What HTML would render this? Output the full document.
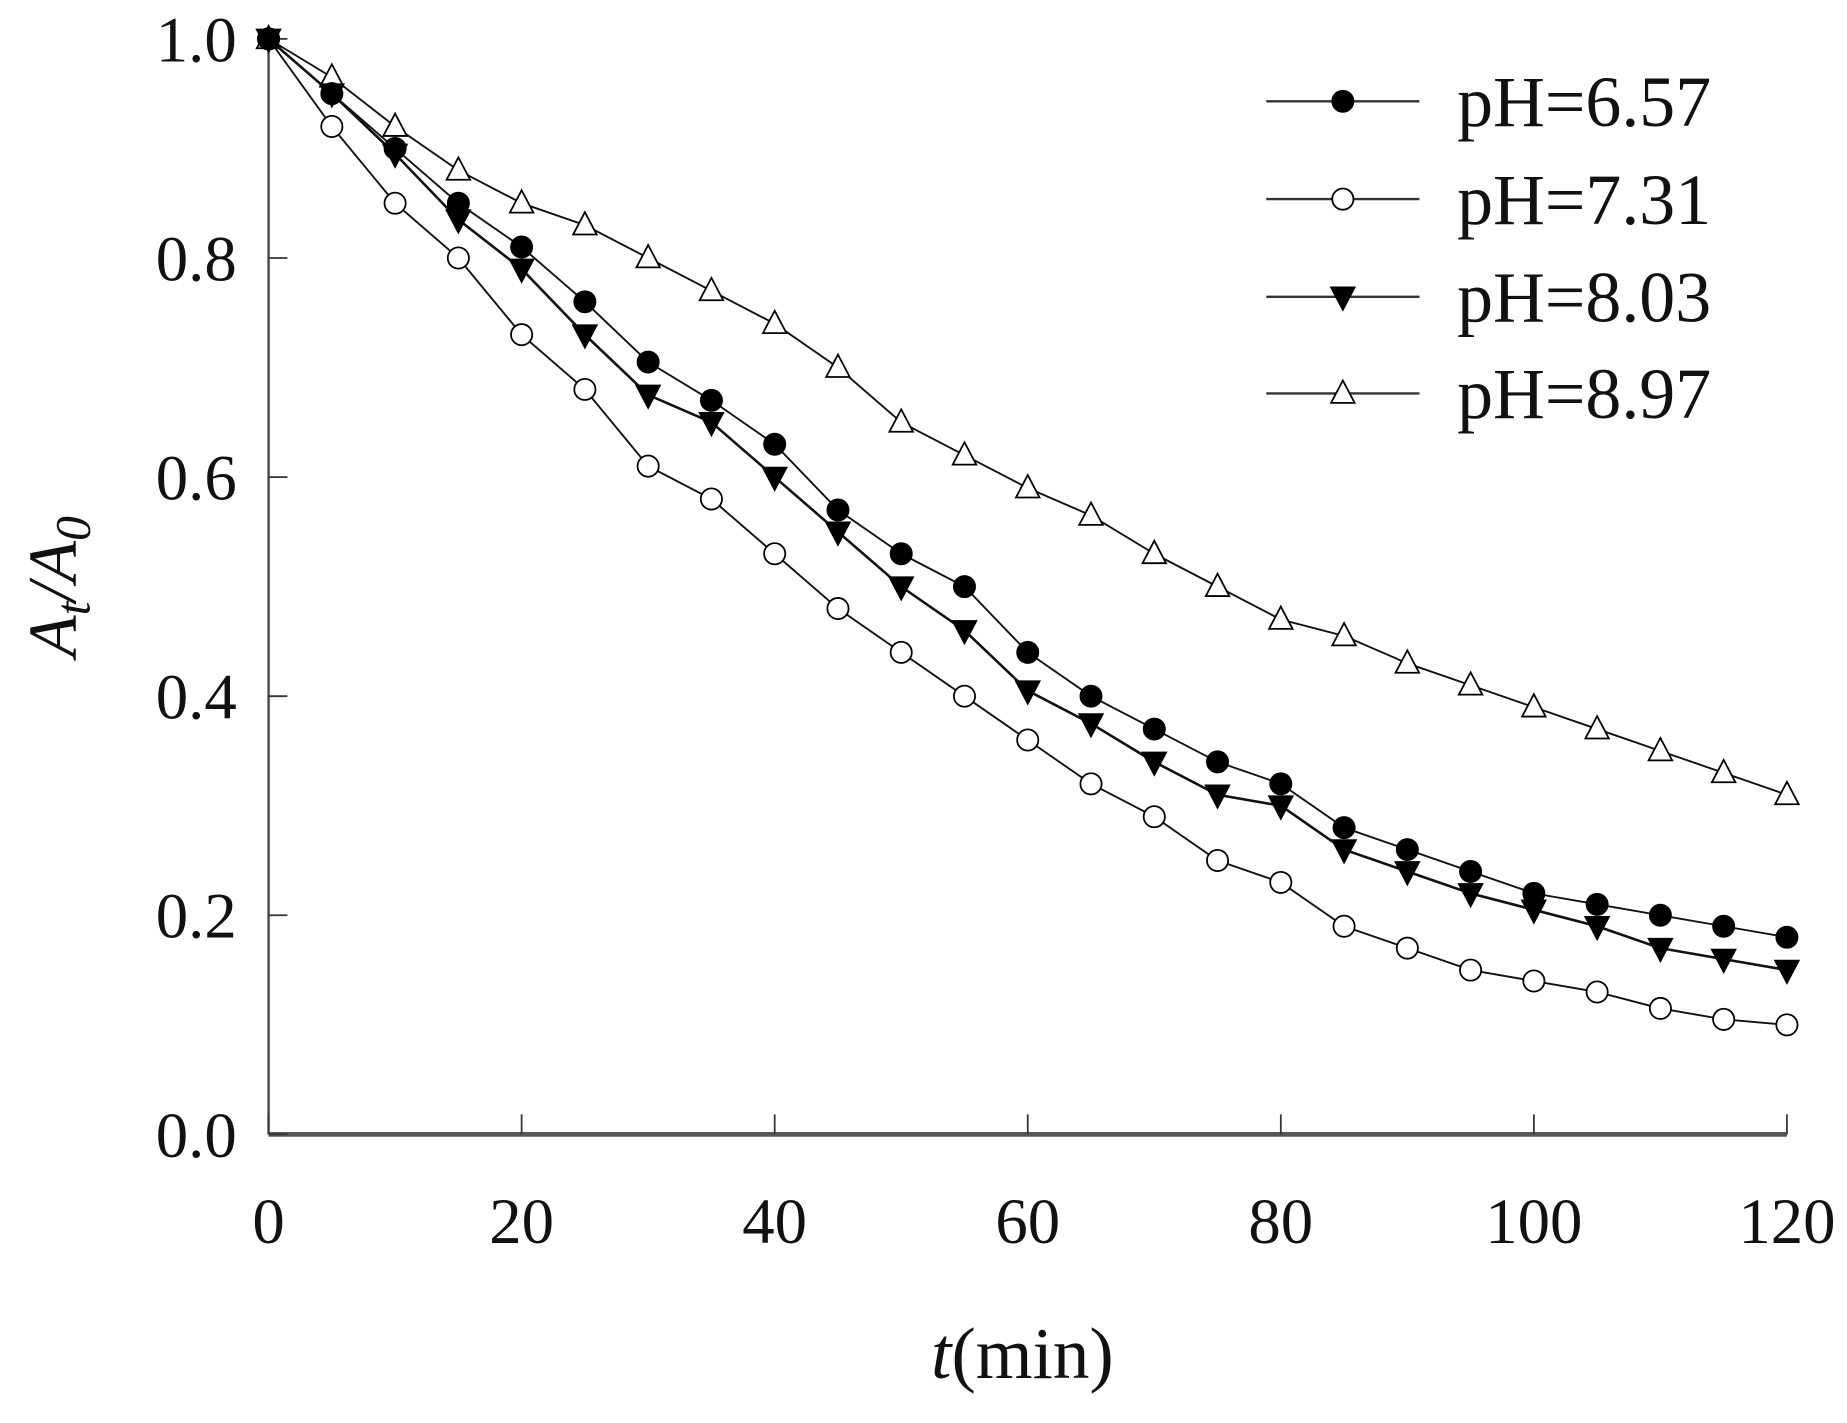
<!DOCTYPE html>
<html><head><meta charset="utf-8"><style>
html,body{margin:0;padding:0;background:#fff;}
svg{display:block;}
text{font-family:"Liberation Serif",serif;fill:#111;}
</style></head><body>
<svg id="chart" width="1847" height="1423" viewBox="0 0 1568 1208" preserveAspectRatio="none" xmlns="http://www.w3.org/2000/svg">
<g id="axes"></g>
<g id="series"></g>
<g id="legend"></g>
<text x="868" y="1170" font-size="62" text-anchor="middle"><tspan font-style="italic">t</tspan>(min)</text>
<text transform="translate(64,498) rotate(-90)" font-size="58" text-anchor="middle" font-style="italic">A<tspan font-size="42" dy="12">t</tspan><tspan dy="-12">/A</tspan><tspan font-size="42" dy="12">0</tspan></text>
</svg>
<script>
const times=[0,5,10,15,20,25,30,35,40,45,50,55,60,65,70,75,80,85,90,95,100,105,110,115,120];
const ph657=[1.0,0.95,0.90,0.85,0.81,0.76,0.705,0.67,0.63,0.57,0.53,0.50,0.44,0.40,0.37,0.34,0.32,0.28,0.26,0.24,0.22,0.21,0.20,0.19,0.18];
const ph731=[1.0,0.92,0.85,0.80,0.73,0.68,0.61,0.58,0.53,0.48,0.44,0.40,0.36,0.32,0.29,0.25,0.23,0.19,0.17,0.15,0.14,0.13,0.115,0.105,0.10];
const ph803=[1.0,0.95,0.895,0.835,0.79,0.73,0.675,0.65,0.60,0.55,0.50,0.46,0.405,0.375,0.34,0.31,0.30,0.26,0.24,0.22,0.205,0.19,0.17,0.16,0.15];
const ph897=[1.0,0.965,0.92,0.88,0.85,0.83,0.80,0.77,0.74,0.70,0.65,0.62,0.59,0.565,0.53,0.50,0.47,0.455,0.43,0.41,0.39,0.37,0.35,0.33,0.31];
const xTicks=[0,20,40,60,80,100,120];
const yTicks=[0,0.2,0.4,0.6,0.8,1.0];
const yTickLabels=["0.0","0.2","0.4","0.6","0.8","1.0"];
const seriesNames=["pH=6.57","pH=7.31","pH=8.03","pH=8.97"];

const NS="http://www.w3.org/2000/svg";
const X0=228,X1=1517,Y0=963,Y1=33;
const xs=v=>X0+(v-0)/(120-0)*(X1-X0);
const ys=v=>Y0-(v-0)/(1-0)*(Y0-Y1);
function mk(tag,attrs,parent){const e=document.createElementNS(NS,tag);for(const k in attrs)e.setAttribute(k,attrs[k]);parent.appendChild(e);return e;}
const axes=document.getElementById('axes');
let a=mk('line',{x1:X0,y1:Y1,x2:X0,y2:Y0,stroke:'#444','stroke-width':2},axes);


a=mk('line',{x1:X0,y1:Y0,x2:X1,y2:Y0,stroke:'#555','stroke-width':4},axes);


xTicks.forEach(v=>{
 const t=mk('line',{x1:xs(v),y1:Y0,x2:xs(v),y2:Y0-17,stroke:'#333','stroke-width':1.5},axes);
 
 
 const l=mk('text',{x:xs(v),y:Y0+92,'font-size':55,'text-anchor':'middle'},axes);
 l.textContent=v;
 
 
});
yTicks.forEach((v,i)=>{
 const t=mk('line',{x1:X0,y1:ys(v),x2:X0+16,y2:ys(v),stroke:'#333','stroke-width':1.5},axes);
 
 
 const l=mk('text',{x:201,y:ys(v)+19,'font-size':55,'text-anchor':'end'},axes);
 l.textContent=yTickLabels[i];
 
 
});
function marker(type,cx,cy,g){
 let m;
 if(type===0) m=mk('circle',{cx,cy,r:9,fill:'#000',stroke:'#000','stroke-width':1.5},g);
 else if(type===1) m=mk('circle',{cx,cy,r:9,fill:'#fff',stroke:'#000','stroke-width':1.5},g);
 else if(type===2) m=mk('polygon',{points:`${cx-10},${cy-8} ${cx+10},${cy-8} ${cx},${cy+11}`,fill:'#000',stroke:'#000','stroke-width':1.5},g);
 else m=mk('polygon',{points:`${cx-10},${cy+8} ${cx+10},${cy+8} ${cx},${cy-11}`,fill:'#fff',stroke:'#000','stroke-width':1.5},g);
 return m;
}
const allSeries=[ph657,ph731,ph803,ph897];
const sg=document.getElementById('series');
const order=[3,1,2,0];
order.forEach(si=>{
 const vals=allSeries[si];
 const g=mk('g',{},sg);
 
 
 const p=mk('polyline',{points:vals.map((v,i)=>xs(times[i])+','+ys(v)).join(' '),fill:'none',stroke:'#111','stroke-width':si===2?2.2:1.6},g);
 
 
 vals.forEach((v,i)=>{
  const m=marker(si,xs(times[i]),ys(v),g);
  
  
 });
});
const lg=document.getElementById('legend');
const legY=[86,169,252,334];
seriesNames.forEach((n,i)=>{
 const g=mk('g',{},lg);
 
 
 mk('line',{x1:1075,y1:legY[i],x2:1205,y2:legY[i],stroke:'#333','stroke-width':2},g);
 marker(i,1140,legY[i],g);
 const t=mk('text',{x:1237,y:legY[i]+21,'font-size':61},g);
 t.textContent=n;
 
 
});
</script>
</body></html>
